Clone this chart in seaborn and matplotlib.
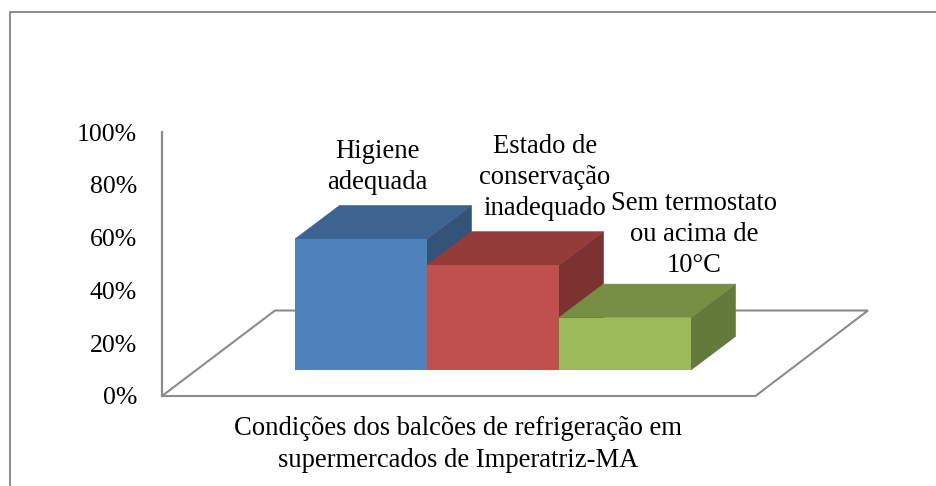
import matplotlib
matplotlib.use("Agg")
import matplotlib.pyplot as plt
import pandas as pd
import seaborn as sns
from matplotlib.lines import Line2D
from matplotlib.patches import Polygon

W, H = 936, 486

categories = ["Higiene\nadequada", "Estado de\nconservação\ninadequado", "Sem termostato\nou acima de\n10°C"]
values = [50, 40, 20]
front_colors = ["#4f81bd", "#c0504d", "#9bbb59"]
top_colors = ["#3d6390", "#933c3a", "#778f44"]
side_colors = ["#335379", "#7c3231", "#647a3a"]
y_ticks = [0, 20, 40, 60, 80, 100]
y_tick_labels = ["0%", "20%", "40%", "60%", "80%", "100%"]
axis_title = "Condições dos balcões de refrigeração em\nsupermercados de Imperatriz-MA"

GREY = "#8c8c8c"


def px_rect(x0, y0, x1, y1):
    # axes rectangle from pixel corners, y counted from the top
    return [x0 / W, 1 - y1 / H, (x1 - x0) / W, (y1 - y0) / H]


sns.set_theme(style="white")
plt.rcParams["font.family"] = ["Liberation Serif", "DejaVu Serif"]

fig = plt.figure(figsize=(W / 100, H / 100), dpi=100, facecolor="white")

# pixel layer for the frame and the floor
bg = fig.add_axes([0, 0, 1, 1])
bg.set_xlim(0, W)
bg.set_ylim(H, 0)
bg.axis("off")
bg.add_line(Line2D([10, 10, 936], [486, 12.5, 12.5], color=GREY, lw=1.4))
bg.add_patch(Polygon([(162, 396), (275, 310.5), (868, 310.5), (755.5, 396)], closed=True,
                     fill=False, edgecolor=GREY, lw=1.5))

# value axis
ax_y = fig.add_axes(px_rect(162, 132, 200, 396))
ax_y.patch.set_alpha(0)
ax_y.set_ylim(0, 100)
ax_y.set_xticks([])
ax_y.set_yticks(y_ticks)
ax_y.set_yticklabels(y_tick_labels, fontsize=18.5, color="black")
ax_y.tick_params(axis="y", length=0, pad=18)
for s in ["top", "right", "bottom"]:
    ax_y.spines[s].set_visible(False)
ax_y.spines["left"].set_color(GREY)
ax_y.spines["left"].set_linewidth(1.6)

# bars, 100% is 262 px on this axes
ax = fig.add_axes(px_rect(295, 108, 691, 370))
ax.patch.set_alpha(0)
df = pd.DataFrame({"cat": categories, "val": values})
sns.barplot(data=df, x="cat", y="val", hue="cat", palette=front_colors, legend=False,
            width=1.0, saturation=1, linewidth=0, ax=ax, zorder=3)
ax.set_xlim(-0.5, 2.5)
ax.set_ylim(0, 100)
ax.axis("off")

depth_x = 44.5 / 132
depth_y = 33.5 / 2.62
for i, bar in enumerate(ax.patches[:3]):
    x0, x1, h = bar.get_x(), bar.get_x() + bar.get_width(), bar.get_height()
    # thin edge in the face colour closes the seam against the front face
    ax.add_patch(Polygon([(x1, 0), (x1 + depth_x, depth_y), (x1 + depth_x, h + depth_y), (x1, h)],
                         facecolor=side_colors[i], edgecolor=side_colors[i], lw=0.4, clip_on=False, zorder=2))
    ax.add_patch(Polygon([(x0, h), (x0 + depth_x, h + depth_y), (x1 + depth_x, h + depth_y), (x1, h)],
                         facecolor=top_colors[i], edgecolor=top_colors[i], lw=0.4, clip_on=False, zorder=2))

# category labels above the bars, figure text so they stay on top
label_pos = [(377, 167), (545, 177.5), (694, 234.5)]
for name, (px, py) in zip(categories, label_pos):
    fig.text(px / W, 1 - py / H, name, ha="center", va="center", fontsize=19.2, linespacing=1.32, color="black")

fig.text(458 / W, 1 - 444.5 / H, axis_title, ha="center", va="center", fontsize=19.2, linespacing=1.32, color="black")

fig.savefig("out.png", dpi=100)
